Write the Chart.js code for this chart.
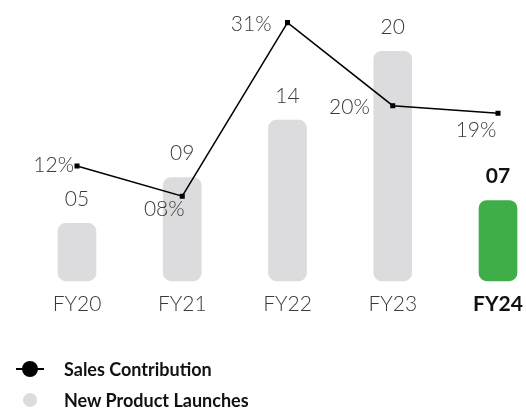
<!DOCTYPE html>
<html>
<head>
<meta charset="utf-8">
<script src="https://cdn.jsdelivr.net/npm/chart.js@4"></script>
<style>
  html, body { margin: 0; padding: 0; background: #fff; }
  #wrap { position: relative; width: 526px; height: 414px; }
  #legend { position: absolute; left: 16px; top: 353px; font-family: Lato, sans-serif; font-weight: 700; font-size: 18px; color: #111; }
  .item { display: flex; align-items: center; height: 31px; }
  .sym { width: 28px; height: 16px; position: relative; margin-right: 20px; }
  .line { position: absolute; left: 0; top: 7px; width: 28px; height: 2px; background: #000; }
  .dotBig { position: absolute; left: 6px; top: 0; width: 16px; height: 16px; border-radius: 50%; background: #000; }
  .dotGrey { position: absolute; left: 7px; top: 1px; width: 14px; height: 14px; border-radius: 50%; background: #dcdcde; }
</style>
</head>
<body>
<div id="wrap">
  <canvas id="myChart"></canvas>
  <div id="legend">
    <div class="item"><div class="sym"><div class="line"></div><div class="dotBig"></div></div>Sales Contribution</div>
    <div class="item"><div class="sym"><div class="dotGrey"></div></div>New Product Launches</div>
  </div>
</div>
<script>
const years = ['FY20', 'FY21', 'FY22', 'FY23', 'FY24'];
const launches = [5, 9, 14, 20, 7];
const salesPct = [12, 8, 31, 20, 19];
const barColors = ['#dcdcde', '#dcdcde', '#dcdcde', '#dcdcde', '#3fae49'];

// where each % label sits relative to its point
const pctLabelPos = [
  { dx: -3, dy: -1, align: 'right' },
  { dx: -18, dy: 13, align: 'center' },
  { dx: -16, dy: 2, align: 'right' },
  { dx: -23, dy: 2, align: 'right' },
  { dx: -22, dy: 17, align: 'center' }
];

const labelFont = '300 21px Lato, sans-serif';
const textColor = '#3a3a3a';

const valueLabels = {
  id: 'valueLabels',
  afterDatasetsDraw(chart) {
    const ctx = chart.ctx;
    ctx.save();
    ctx.textBaseline = 'middle';
    const lineMeta = chart.getDatasetMeta(0);
    lineMeta.data.forEach((pt, i) => {
      const p = pctLabelPos[i];
      ctx.font = labelFont;
      ctx.fillStyle = textColor;
      ctx.textAlign = p.align;
      ctx.fillText(String(salesPct[i]).padStart(2, '0') + '%', pt.x + p.dx, pt.y + p.dy);
    });
    const barMeta = chart.getDatasetMeta(1);
    barMeta.data.forEach((bar, i) => {
      const last = i === years.length - 1;
      ctx.font = last ? '700 21px Lato, sans-serif' : labelFont;
      ctx.fillStyle = last ? '#111' : textColor;
      ctx.textAlign = 'center';
      ctx.fillText(String(launches[i]).padStart(2, '0'), bar.x, bar.y - 24);
    });
    ctx.restore();
  }
};

new Chart(document.getElementById('myChart'), {
  data: {
    labels: years,
    datasets: [{
      type: 'line',
      label: 'Sales Contribution',
      data: salesPct,
      yAxisID: 'yPct',
      borderColor: '#000',
      borderWidth: 1.5,
      pointStyle: 'rect',
      pointRadius: 2.5,
      pointBackgroundColor: '#000',
      pointBorderColor: '#000',
      tension: 0,
      clip: false,
      order: 0
    }, {
      type: 'bar',
      label: 'New Product Launches',
      data: launches,
      yAxisID: 'yBar',
      backgroundColor: barColors,
      borderRadius: 8,
      borderSkipped: false,
      barThickness: 38,
      clip: false,
      order: 1
    }]
  },
  options: {
    responsive: true,
    maintainAspectRatio: false,
    animation: false,
    layout: { padding: { top: 10, left: 77, right: 28, bottom: 86 } },
    plugins: { legend: { display: false }, tooltip: { enabled: false } },
    scales: {
      x: {
        offset: false,
        grid: { display: false, drawTicks: false },
        border: { display: false },
        afterFit: (scale) => { scale.paddingLeft = 0; scale.paddingRight = 0; },
        ticks: {
          padding: 11,
          maxRotation: 0,
          autoSkip: false,
          font: (c) => ({ family: 'Lato, sans-serif', size: 21, weight: c.index === 4 ? '700' : '300' }),
          color: (c) => c.index === 4 ? '#111' : textColor
        }
      },
      yBar: { display: false, min: 0, max: 23.6 },
      yPct: { display: false, min: -3.2, max: 32.67 }
    }
  },
  plugins: [valueLabels]
});
</script>
</body>
</html>
